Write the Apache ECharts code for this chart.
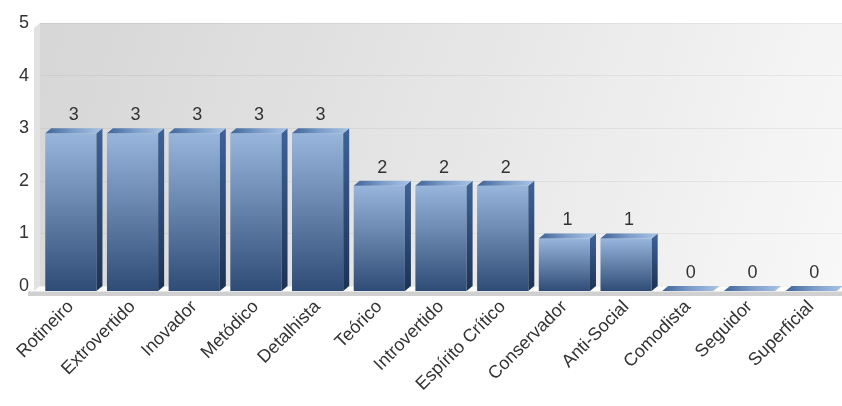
<!DOCTYPE html>
<html>
<head>
<meta charset="utf-8">
<script src="https://cdn.jsdelivr.net/npm/echarts@6/dist/echarts.min.js"></script>
<style>html,body{margin:0;padding:0;background:#fff}#c{width:842px;height:406px}</style>
</head>
<body>
<div id="c"></div>
<script>
var categories = ['Rotineiro','Extrovertido','Inovador','Metódico','Detalhista','Teórico','Introvertido','Espírito Crítico','Conservador','Anti-Social','Comodista','Seguidor','Superficial'];
var values = [3,3,3,3,3,2,2,2,1,1,0,0,0];
var yTicks = [0,1,2,3,4,5];

var chart = echarts.init(document.getElementById('c'));
var DX = 6, DY = 5;
function renderItem(params, api) {
  var i = api.value(0), v = api.value(1);
  var p0 = api.coord([i, 0]);
  var p1 = api.coord([i, v]);
  var cw = api.size([1, 0])[0];
  var w = cw * 0.83;
  var xl = p0[0] - w / 2, xr = p0[0] + w / 2;
  var yb = p0[1] + DY, yt = p1[1] + DY;
  var children = [];
  if (v > 0) {
    children.push({type:'rect', shape:{x:xl, y:yt, width:w, height:yb-yt},
      style:{fill:new echarts.graphic.LinearGradient(0,0,0,1,[{offset:0,color:'#98b6dc'},{offset:1,color:'#2f4c77'}])}});
    children.push({type:'polygon', shape:{points:[[xr,yt],[xr+DX,yt-DY],[xr+DX,yb-DY],[xr,yb]]},
      style:{fill:new echarts.graphic.LinearGradient(0,0,0,1,[{offset:0,color:'#3f6397'},{offset:1,color:'#1c3253'}])}});
  }
  children.push({type:'polygon', shape:{points:[[xl,yt],[xr,yt],[xr+DX,yt-DY],[xl+DX,yt-DY]]},
    style:{fill:new echarts.graphic.LinearGradient(0,0,1,0,[{offset:0,color:'#3f6399'},{offset:0.5,color:'#7c9dca'},{offset:1,color:'#a9c3e4'}])}});
  children.push({type:'text', style:{text:String(v), x:p0[0]+DX/2, y:yt-DY-4, align:'center', verticalAlign:'bottom',
    fill:'#333', font:'18px "Liberation Sans", Arial, sans-serif'}});
  return {type:'group', children:children};
}

var data = values.map(function(v,i){return [i,v];});
chart.setOption({
  animation:false,
  grid:{left:40, right:0, top:23, bottom:120, show:true, borderWidth:0,
    backgroundColor:new echarts.graphic.LinearGradient(0,0,1,1,[{offset:0,color:'#d6d6d6'},{offset:0.5,color:'#e6e6e6'},{offset:1,color:'#f8f8f8'}])},
  graphic:[
    {type:'polygon', z:-1, shape:{points:[[34,28],[40,23],[40,286],[34,291]]}, style:{fill:'#e2e2e2'}},
    {type:'rect', z:10, shape:{x:28, y:291, width:814, height:5}, style:{fill:'#d0d0d0'}},
    {type:'rect', z:10, shape:{x:28, y:291, width:814, height:1}, style:{fill:'#e6e6e6'}}
  ],
  xAxis:{type:'category', data:categories,
    axisLine:{show:false}, axisTick:{show:false},
    axisLabel:{rotate:45, interval:0, margin:18, color:'#333', fontSize:18, fontFamily:'"Liberation Sans", Arial, sans-serif'}},
  yAxis:{type:'value', min:0, max:5, interval:1,
    axisLine:{show:false}, axisTick:{show:false},
    splitLine:{lineStyle:{color:'rgba(0,0,0,0.05)'}},
    axisLabel:{margin:11, color:'#333', fontSize:18, fontFamily:'"Liberation Sans", Arial, sans-serif',
      formatter:function(v){return yTicks.indexOf(v)>=0?String(v):'';}}},
  series:[{type:'custom', renderItem:renderItem, data:data, encode:{x:0,y:1}, z:5}]
});
</script>
</body>
</html>
